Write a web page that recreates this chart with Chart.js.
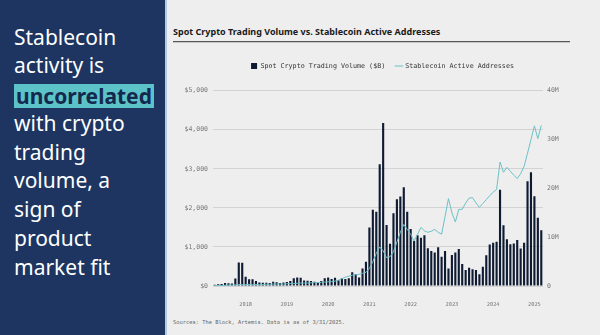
<!DOCTYPE html>
<html>
<head>
<meta charset="utf-8">
<script src="https://cdn.jsdelivr.net/npm/chart.js@4.4.1/dist/chart.umd.min.js"></script>
<style>
html, body { margin: 0; padding: 0; }
body { width: 600px; height: 335px; position: relative; overflow: hidden; background: #eeeeee; font-family: "Noto Sans", sans-serif; }
#side { position: absolute; left: 0; top: 0; width: 165px; height: 335px; background: #1d3560; }
#stripe { position: absolute; left: 165px; top: 0; width: 2px; height: 335px; background: #b4cbe4; }
#pitch { position: absolute; left: 14px; top: 22.5px; color: #fff; font-size: 21px; line-height: 28.8px; white-space: nowrap; }
#pitch .hl { display: inline-block; line-height: 24px; padding: 0 2px; background: #5cc3c9; color: #14294d; font-weight: 700; position: relative; top: 1.5px; }
#title { position: absolute; left: 173px; top: 25.4px; font-size: 9px; font-weight: 700; color: #1a1a1a; white-space: nowrap; }
#rule { position: absolute; left: 173px; top: 41px; width: 397px; height: 1px; background: #555; box-shadow: 0 1px 0 #c8c8c8; }
#source { position: absolute; left: 173px; top: 319px; font-family: "DejaVu Sans Mono", monospace; font-size: 5.4px; color: #666; white-space: nowrap; }
#chartBox { position: absolute; left: 165px; top: 52px; width: 435px; height: 256px; }
</style>
</head>
<body>
<div id="side"></div>
<div id="stripe"></div>
<div id="pitch">Stablecoin<br>activity is<br><span class="hl">uncorrelated</span><br>with crypto<br>trading<br>volume, a<br>sign of<br>product<br>market fit</div>
<div id="title">Spot Crypto Trading Volume vs. Stablecoin Active Addresses</div>
<div id="rule"></div>
<div id="chartBox"><canvas id="chart" width="435" height="256"></canvas></div>
<div id="source">Sources: The Block, Artemis. Data is as of 3/31/2025.</div>
<script>
// monthly series, Apr 2017 .. Mar 2025
const startYear = 2017;
const startMonth = 4;

// spot volume in $B
const volumeB = [
    35, 45, 50, 75, 70, 65, 190, 600, 595, 240,
    175, 170, 130, 90, 85, 85, 80, 110, 95, 80,
    90, 100, 125, 200, 215, 210, 140, 135, 130, 110,
    85, 130, 200, 215, 180, 214, 150, 200, 180, 200,
    350, 300, 220, 450, 620, 1500, 1950, 1900, 3120, 4170,
    1560, 1080, 1860, 2220, 2290, 2530, 1900, 1460, 1150, 1300,
    1235, 1300, 965, 895, 860, 990, 750, 895, 450, 795,
    855, 950, 565, 410, 470, 430, 410, 300, 495, 790,
    1065, 1105, 1130, 2465, 1555, 1200, 1070, 1090, 1175, 960,
    1105, 2680, 2910, 2295, 1750, 1430
];

// stablecoin active addresses in millions
const activeAddrM = [
    0.1, 0.1, 0.1, 0.15, 0.2, 0.2, 0.25, 0.3, 0.3, 0.3,
    0.3, 0.3, 0.3, 0.3, 0.3, 0.35, 0.35, 0.4, 0.4, 0.4,
    0.4, 0.45, 0.5, 0.5, 0.55, 0.6, 0.6, 0.6, 0.65, 0.7,
    0.7, 0.75, 0.8, 0.85, 0.9, 1.0, 1.2, 1.5, 1.8, 2.0,
    2.2, 2.3, 2.4, 2.6, 2.8, 3.6, 5.0, 6.7, 8.0, 7.2,
    5.8, 6.0, 7.0, 9.0, 11.0, 12.6, 11.6, 10.6, 9.2, 10.6,
    12.0, 11.3, 11.0, 11.2, 11.6, 11.0, 10.6, 14.2, 17.9, 15.0,
    13.1, 15.7, 15.7, 17.0, 18.0, 18.1, 17.0, 16.1, 16.9, 17.7,
    18.5, 19.2, 19.8, 25.4, 23.3, 24.3, 23.5, 22.7, 22.0, 23.0,
    24.5, 27.2, 30.0, 32.8, 30.2, 32.9
];

const yearTicks = ['2018', '2019', '2020', '2021', '2022', '2023', '2024', '2025'];
const volumeTicks = ['$0', '$1,000', '$2,000', '$3,000', '$4,000', '$5,000'];
const addrTicks = ['0', '10M', '20M', '30M', '40M'];

const months = [];
for (let i = 0; i < volumeB.length; i++) {
    const m = startMonth - 1 + i;
    months.push(`${startYear + Math.floor(m / 12)}-${String(m % 12 + 1).padStart(2, '0')}`);
}

const mono = '"DejaVu Sans Mono", monospace';

// push the plot area down below the legend
const legendGap = {
    id: 'legendGap',
    beforeInit(chart) {
        const fit = chart.legend.fit;
        chart.legend.fit = function () {
            fit.bind(chart.legend)();
            this.height += 11.35;
        };
    }
};

new Chart(document.getElementById('chart'), {
    type: 'bar',
    data: {
        labels: months,
        datasets: [
            {
                type: 'bar',
                label: 'Spot Crypto Trading Volume ($B)',
                data: volumeB,
                backgroundColor: '#0f1b33',
                borderWidth: 0,
                barPercentage: 0.62,
                categoryPercentage: 1.0,
                pointStyle: 'rect',
                yAxisID: 'y',
                order: 1
            },
            {
                type: 'line',
                label: 'Stablecoin Active Addresses',
                data: activeAddrM,
                borderColor: '#6cc0c7',
                backgroundColor: '#6cc0c7',
                borderWidth: 1,
                pointRadius: 0,
                pointStyle: 'line',
                tension: 0,
                yAxisID: 'y1',
                order: 0
            }
        ]
    },
    options: {
        responsive: false,
        animation: false,
        layout: { padding: 0 },
        plugins: {
            tooltip: { enabled: false },
            legend: {
                position: 'top',
                align: 'center',
                labels: {
                    usePointStyle: true,
                    boxWidth: 6,
                    boxHeight: 6,
                    padding: 10.65,
                    color: '#333',
                    font: { family: mono, size: 6.7 },
                    sort: (a, b) => a.datasetIndex - b.datasetIndex
                }
            }
        },
        scales: {
            x: {
                grid: { display: false },
                border: { display: false },
                afterFit: s => { s.height = 22; },
                ticks: {
                    autoSkip: false,
                    maxRotation: 0,
                    minRotation: 0,
                    padding: 7,
                    color: '#777',
                    font: { family: mono, size: 5.3 },
                    callback: (v, i) => {
                        const lab = months[i];
                        const yr = lab.slice(0, 4);
                        return lab.endsWith('-01') && yearTicks.includes(yr) ? yr : '';
                    }
                }
            },
            y: {
                position: 'left',
                min: 0,
                max: 5000,
                afterFit: s => { s.width = 48; },
                grid: { color: '#d3d3d3', lineWidth: 1, drawTicks: false },
                border: { display: false },
                ticks: {
                    stepSize: 1000,
                    padding: 5,
                    color: '#777',
                    font: { family: mono, size: 6.5 },
                    callback: v => volumeTicks[v / 1000]
                }
            },
            y1: {
                position: 'right',
                min: 0,
                max: 40,
                afterFit: s => { s.width = 57; },
                grid: { display: false, drawTicks: false },
                border: { display: false },
                ticks: {
                    stepSize: 10,
                    padding: 4,
                    color: '#777',
                    font: { family: mono, size: 6.5 },
                    callback: v => addrTicks[v / 10]
                }
            }
        }
    },
    plugins: [legendGap]
});
</script>
</body>
</html>
